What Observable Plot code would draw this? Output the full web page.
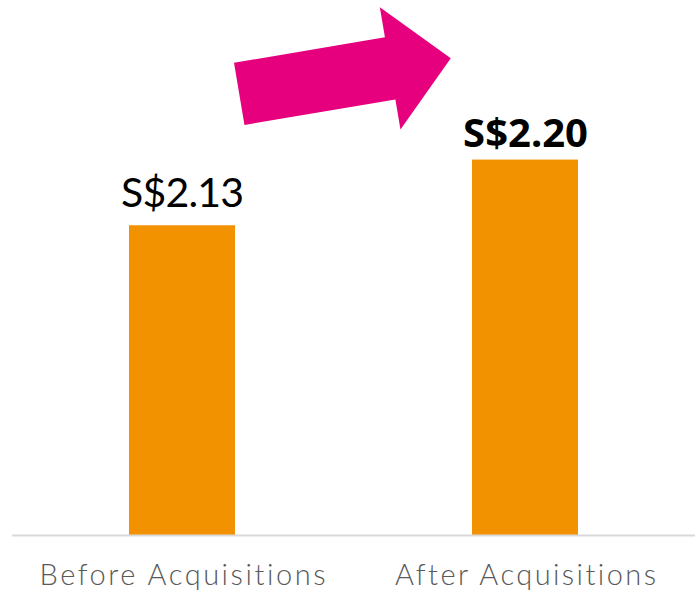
<!DOCTYPE html>
<html>
<head>
<meta charset="utf-8">
<script src="https://cdn.jsdelivr.net/npm/d3@7"></script>
<script src="https://cdn.jsdelivr.net/npm/@observablehq/plot@0.6"></script>
<style>
  html, body { margin: 0; padding: 0; background: #ffffff; }
  #chart svg { display: block; }
  #chart svg text { font-variant-ligatures: none; font-feature-settings: "liga" 0, "clig" 0; }
</style>
</head>
<body>
<div id="chart"></div>
<script>
const categories = ["Before Acquisitions", "After Acquisitions"];
const values = [2.13, 2.20];
const valueLabels = ["S$2.13", "S$2.20"];

const data = categories.map((c, i) => ({category: c, value: values[i], label: valueLabels[i]}));

const barColor = "#F39200";
const arrowColor = "#E6007E";
const baseValue = 1.8;

// Decorative block arrow placed between the two bars using the chart scales
function blockArrow(index, scales, values, dimensions) {
  const x = scales.x, y = scales.y;
  const bw = x.bandwidth();
  const x0 = x(categories[0]) + bw * 1.04;       // tail centre
  const x1 = x(categories[1]) - bw * 0.2;        // tip
  const y0 = y(2.270);
  const y1 = y(2.308);
  const dx = x1 - x0, dy = y1 - y0;
  const L = Math.hypot(dx, dy);
  const ang = Math.atan2(dy, dx) * 180 / Math.PI;
  const sw = 31.5, hw = 62, hl = 61.5;
  const pts = [[0, -sw], [L - hl, -sw], [L - hl, -hw], [L, 0], [L - hl, hw], [L - hl, sw], [0, sw]];
  const g = d3.create("svg:g").attr("transform", `translate(${x0},${y0}) rotate(${ang})`);
  g.append("path")
    .attr("d", "M" + pts.map(p => p.join(",")).join("L") + "Z")
    .attr("fill", arrowColor);
  return g.node();
}

const fontFam = "'Noto Sans', 'DejaVu Sans', sans-serif";

const chart = Plot.plot({
  width: 695,
  height: 594,
  marginTop: 0,
  marginBottom: 59,
  marginLeft: 12,
  marginRight: 0,
  style: {fontFamily: fontFam, background: "#ffffff"},
  x: {domain: categories, paddingInner: 0.69, paddingOuter: 0.34, label: null},
  y: {domain: [baseValue, 2.37], axis: null},
  marks: [
    Plot.barY(data, {x: "category", y1: baseValue, y2: "value", fill: barColor}),
    Plot.ruleY([baseValue], {stroke: "#d9d9d9", strokeWidth: 2}),
    Plot.text(data.filter((d, i) => i === 0), {x: "category", y: "value", text: "label", lineAnchor: "bottom", dy: -19, fontSize: 41, fill: "#000000", fontWeight: 400, fontFamily: "Lato, 'Noto Sans', sans-serif"}),
    Plot.text(data.filter((d, i) => i === 1), {x: "category", y: "value", text: "label", lineAnchor: "bottom", dy: -13, fontSize: 40, fill: "#000000", fontWeight: 700}),
    Plot.axisX({tickSize: 0, tickPadding: 29, fontSize: 29, color: "#595959", label: null, fontFamily: "Lato, 'Noto Sans', sans-serif", fontWeight: 300}),
    blockArrow
  ]
});

// stretch the category labels to the wide geometric face of the original
const labelLengths = {"Before Acquisitions": 286, "After Acquisitions": 261};
d3.select(chart).selectAll("g[aria-label='x-axis tick label'] text")
  .each(function() {
    const t = this.textContent;
    if (labelLengths[t]) d3.select(this).attr("textLength", labelLengths[t]).attr("lengthAdjust", "spacing");
  });
d3.select(chart).selectAll("text").filter(function() { return this.textContent === valueLabels[0]; })
  .attr("textLength", 123).attr("lengthAdjust", "spacing");

document.getElementById("chart").appendChild(chart);
</script>
</body>
</html>
